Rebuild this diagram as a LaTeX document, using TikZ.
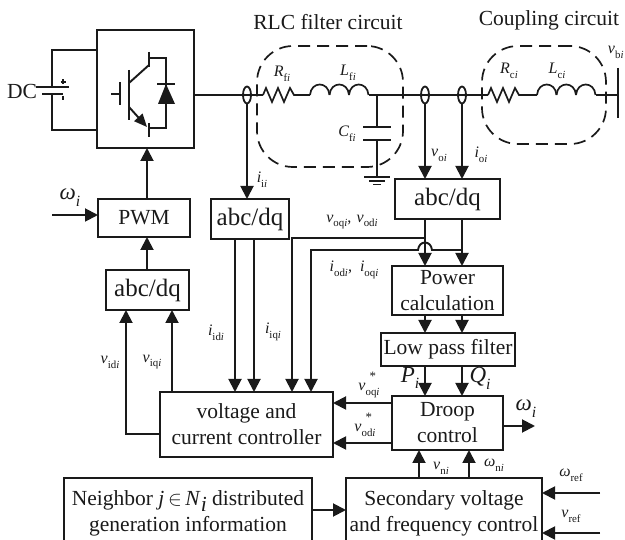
\documentclass[tikz,border=0pt]{standalone}
\usepackage{fontspec}
\setmainfont{Liberation Serif}
\usetikzlibrary{arrows.meta,shapes.geometric}
\definecolor{ink}{HTML}{1A1A1A}
\newcommand{\sgnr}[2]{\textit{#1}\raisebox{-.3em}{\scalebox{.68}{#2}}}
\newcommand{\sgn}[2]{\sgnr{#1}{#2\textit{i}}}
\newcommand{\sgnstar}[2]{\textit{#1}\rlap{\raisebox{.62em}{\hspace{.25em}\scalebox{.8}{*}}}\sgnr{}{#2\textit{i}}}
\tikzset{
  blockbox/.style={draw, line width=2pt, inner sep=0pt, outer sep=0pt, align=center,
    font=\fontsize{21.5}{27}\selectfont},
  dqbox/.style={blockbox, font=\fontsize{25}{27}\selectfont},
  sensor/.style={draw, ellipse, line width=1.8pt, inner sep=0pt, minimum width=8pt, minimum height=17pt},
  groupline/.style={draw, line width=1.7pt, dash pattern=on 12pt off 7pt, rounded corners=36pt, inner sep=0pt},
  caption/.style={font=\fontsize{21.5}{24}\selectfont},
  sig/.style={font=\fontsize{16}{18}\selectfont, inner sep=0pt},
  bigsig/.style={font=\fontsize{23}{25}\selectfont, inner sep=0pt},
  resistor/.pic={\draw[line width=1.7pt] (0,0) -- (3,-7) -- (9,7) -- (15,-7) -- (21,7) -- (27,-7) -- (31,0) -- (34,0);},
  inductor/.pic={\foreach \k in {0,19.5,39} {
      \draw[line width=1.7pt] (\k,0) .. controls ({\k+1},-14) and ({\k+18.5},-14) .. ({\k+19.5},0);}}
}
\begin{document}
\begin{tikzpicture}[x=1pt, y=-1pt, color=ink, line width=1.9pt,
    >={Triangle[length=13pt,width=13pt]}]
  \useasboundingbox (0,0) rectangle (625,540);

  \node[blockbox, minimum width=97pt, minimum height=118pt] (inv) at (145.5,89) {};
  \node[blockbox, minimum width=92pt, minimum height=38pt] (pwm) at (144,218) {PWM};
  \node[dqbox, minimum width=83pt, minimum height=40pt] (dqa) at (147.5,290) {abc/dq};
  \node[dqbox, minimum width=78pt, minimum height=40pt] (dqb) at (250,219) {abc/dq};
  \node[dqbox, minimum width=105pt, minimum height=40pt] (dqc) at (447.5,199) {abc/dq};
  \node[blockbox, minimum width=111pt, minimum height=49pt] (power) at (447.5,290.5) {Power\\[-1pt]calculation};
  \node[blockbox, minimum width=134pt, minimum height=33pt] (lpf) at (448,349.5) {Low pass filter};
  \node[blockbox, minimum width=111pt, minimum height=54pt] (droop) at (447.5,423) {Droop\\[-1pt]control};
  \node[blockbox, minimum width=173pt, minimum height=65pt] (ctrl) at (246.5,424.5) {voltage and\\[-1pt]current controller};
  \node[blockbox, minimum width=196pt, minimum height=70pt] (sec) at (444,513) {Secondary voltage\\[-1pt]and frequency control};
  \node[blockbox, minimum width=248pt, minimum height=70pt] (nbr) at (188,513)
    {Neighbor \textit{j}\,$\in$\,\textit{N}\raisebox{-.3em}{\textit{i}} distributed\\[-1pt]generation information};

  \node[groupline, minimum width=146pt, minimum height=121pt] (rlc) at (330,106.5) {};
  \node[groupline, minimum width=124pt, minimum height=98pt] (cpl) at (544,95) {};
  \node[caption] (rlctxt) at (328,22) {RLC filter circuit};
  \node[caption] (cpltxt) at (549,20) {Coupling circuit};

  \coordinate (rfa) at (263,95);
  \coordinate (rfb) at (297,95);
  \coordinate (lfa) at (310,95);
  \coordinate (lfb) at (368.5,95);
  \coordinate (rca) at (488,95);
  \coordinate (rcb) at (522,95);
  \coordinate (lca) at (537,95);
  \coordinate (lcb) at (595.5,95);
  \coordinate (busa) at (618,68);
  \coordinate (busb) at (618,118);
  \coordinate (capnode) at (377,95);

  \draw (inv.east |- rfa) -- (rfa);
  \draw (rfb) -- (lfa);
  \draw (lfb) -- (rca);
  \draw (rcb) -- (lca);
  \draw (lcb) -- (rfa -| busa);
  \draw[line width=2.4pt] (busa) -- (busb);
  \pic at (rfa) {resistor};
  \pic at (lfa) {inductor};
  \pic at (rca) {resistor};
  \pic at (lca) {inductor};

  \node[sensor] (sensa) at (247,95) {};
  \node[sensor] (sensb) at (425,95) {};
  \node[sensor] (sensc) at (462,95) {};

  % filter capacitor
  \coordinate (cpa) at (377,127);
  \coordinate (cpb) at (377,140);
  \coordinate (gnd) at (377,177);
  \draw (capnode) -- (cpa);
  \draw (cpb) -- (gnd);
  \draw[line width=2.2pt] (363,127) -- (391,127);
  \draw[line width=2.2pt] (363,140) -- (391,140);
  \draw[line width=2.2pt] (364,177) -- (390,177);
  \draw[line width=1.4pt] (369,181) -- (385,181);
  \draw[line width=1.4pt] (373,184.5) -- (381,184.5);

  % DC source
  \node[caption] (dctxt) at (22,91) {DC};
  \draw (inv.west |- 0,50) -- (52,50) -- (52,87);
  \draw (52,94) -- (52,130) -- (inv.west |- 0,130);
  \draw[line width=2.2pt] (36,87) -- (69,87);
  \draw[line width=2.2pt] (42,94) -- (63,94);
  \draw[line width=1.2pt] (60.5,82) -- (65.5,82);
  \draw[line width=1.2pt] (63,79.5) -- (63,84.5);
  \draw[line width=1.7pt] (63,96) -- (63,100);

  % switch
  \draw (111,94) -- (120,94);
  \draw[line width=2.2pt] (120,82) -- (120,105);
  \draw[line width=2.2pt] (129,70) -- (129,120);
  \draw (129,83) -- (149,65);
  \draw[line width=2.2pt] (149,52) -- (149,67);
  \draw (149,58) -- (166,58) -- (166,128) -- (149,128);
  \draw[line width=2.2pt] (149,123) -- (149,137);
  \draw[-{Triangle[length=13pt,width=11pt]}] (129,107) -- (147,127);
  \fill (166,84) -- (175,104) -- (158,104) -- cycle;
  \draw[line width=2.2pt] (157,84) -- (175,84);

  % connectors
  \coordinate (gate) at (147,0);
  \draw[->] (pwm.north -| gate) -- (inv.south -| gate);
  \draw[->] (dqa.north -| gate) -- (pwm.south -| gate);
  \coordinate (omegain) at (52,215);
  \draw[->] (omegain) -- (omegain -| pwm.west);
  \draw[->] (sensa.south) -- (sensa |- dqb.north);
  \draw[->] (sensb.south) -- (sensb |- dqc.north);
  \draw[->] (sensc.south) -- (sensc |- dqc.north);

  \draw[->] (sensb |- dqc.south) -- (sensb |- power.north);
  \draw[->] (sensc |- dqc.south) -- (sensc |- power.north);
  \draw[->] (sensb |- power.south) -- (sensb |- lpf.north);
  \draw[->] (sensc |- power.south) -- (sensc |- lpf.north);
  \draw[->] (sensb |- lpf.south) -- (sensb |- droop.north);
  \draw[->] (sensc |- lpf.south) -- (sensc |- droop.north);

  \coordinate (vbus) at (292,238);
  \coordinate (ibus) at (311,250);
  \coordinate (hopa) at (sensb |- ibus);
  \draw[->] (sensb |- vbus) -- (vbus) -- (vbus |- ctrl.north);
  \draw[->] (sensc |- ibus) -- ([xshift=7pt]hopa) .. controls +(-1,-10) and +(1,-10) .. ([xshift=-7pt]hopa) -- (ibus) -- (ibus |- ctrl.north);

  \foreach \x in {235,254} {
    \draw[->] (\x,0 |- dqb.south) -- (\x,0 |- ctrl.north);
  }
  \coordinate (vidout) at (126,434);
  \coordinate (viqout) at (172,0);
  \draw[->] (vidout -| ctrl.west) -- (vidout) -- (vidout |- dqa.south);
  \draw[->] (viqout |- ctrl.north) -- (viqout |- dqa.south);

  \coordinate (vqref) at (0,403);
  \coordinate (vdref) at (0,443);
  \draw[->] (droop.west |- vqref) -- (ctrl.east |- vqref);
  \draw[->] (droop.west |- vdref) -- (ctrl.east |- vdref);
  \coordinate (omegaout) at (535,426);
  \draw[->] (omegaout -| droop.east) -- (omegaout);
  \coordinate (vnup) at (419,0);
  \coordinate (wnup) at (469,0);
  \draw[->] (vnup |- sec.north) -- (vnup |- droop.south);
  \draw[->] (wnup |- sec.north) -- (wnup |- droop.south);
  \coordinate (nbrlink) at (0,510);
  \draw[->] (nbr.east |- nbrlink) -- (sec.west |- nbrlink);
  \coordinate (wref) at (600,493);
  \coordinate (vref) at (600,533);
  \draw[->] (wref) -- (wref -| sec.east);
  \draw[->] (vref) -- (vref -| sec.east);

  % labels
  \node[sig] (labrf) at (282,74) {\sgn{R}{f}};
  \node[sig] (lablf) at (348,73) {\sgn{L}{f}};
  \node[sig] (labcf) at (347,134) {\sgn{C}{f}};
  \node[sig] (labrc) at (509,71) {\sgn{R}{c}};
  \node[sig] (lablc) at (557,71) {\sgn{L}{c}};
  \node[sig, anchor=east] (labbus) at (624.5,52) {\sgn{v}{b}};
  \node[sig] (labii) at (262,180) {\sgn{i}{i}};
  \node[sig] (labvo) at (439,155) {\sgn{v}{o}};
  \node[sig] (labio) at (481,155) {\sgn{i}{o}};
  \node[sig] (labvdq) at (352,222) {\sgn{v}{oq},\,\,\sgn{v}{od}};
  \node[sig] (labidq) at (354,270) {\sgn{i}{od},\,\,\,\sgn{i}{oq}};
  \node[sig] (labid) at (216,333) {\sgn{i}{id}};
  \node[sig] (labiq) at (273,332) {\sgn{i}{iq}};
  \node[sig] (labvd) at (110,362) {\sgn{v}{id}};
  \node[sig] (labvq) at (152,362) {\sgn{v}{iq}};
  \node[sig] (labvqs) at (369,385) {\sgnstar{v}{oq}};
  \node[sig] (labvds) at (365,425) {\sgnstar{v}{od}};
  \node[sig] (labvn) at (441,468) {\sgn{v}{n}};
  \node[sig] (labwn) at (494,465) {\sgn{ω}{n}};
  \node[sig] (labwr) at (571,475) {\sgnr{ω}{ref}};
  \node[sig] (labvr) at (571,516) {\sgnr{v}{ref}};
  \node[bigsig] (labp) at (410,378) {\sgnr{P}{\textit{i}}};
  \node[bigsig] (labq) at (480,378) {\sgnr{Q}{\textit{i}}};
  \node[bigsig] (labwa) at (70,198) {\sgnr{ω}{\textit{i}}};
  \node[bigsig] (labwb) at (526,409) {\sgnr{ω}{\textit{i}}};
\end{tikzpicture}
\end{document}
